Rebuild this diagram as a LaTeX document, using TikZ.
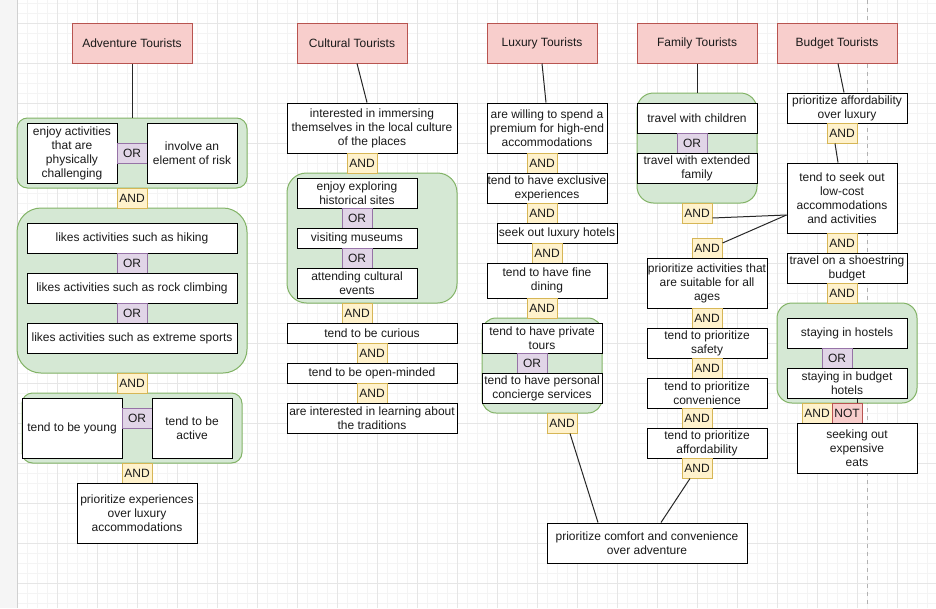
\documentclass[tikz,border=0pt]{standalone}
\usepackage{fontspec}
\setmainfont{Liberation Sans}
\begin{document}
\definecolor{headfill}{HTML}{F8CECC}
\definecolor{headline}{HTML}{B85450}
\definecolor{grpfill}{HTML}{D5E8D4}
\definecolor{grpline}{HTML}{82B366}
\definecolor{orfill}{HTML}{E1D5E7}
\definecolor{orline}{HTML}{9673A6}
\definecolor{andfill}{HTML}{FFF2CC}
\definecolor{andline}{HTML}{D6B656}
\definecolor{txt}{HTML}{1A1A1A}
\definecolor{gridmajor}{HTML}{E6E6E6}
\definecolor{gridminor}{HTML}{F4F4F4}
\begin{tikzpicture}[x=1pt,y=-1pt,
  base/.style={draw, line width=1pt, inner sep=0pt, align=center, text=txt,
    font=\fontsize{12}{14}\selectfont},
  box/.style={base, fill=white, draw=black},
  head/.style={base, fill=headfill, draw=headline, minimum height=40pt},
  orbox/.style={base, fill=orfill, draw=orline, minimum width=30pt, minimum height=20pt},
  andbox/.style={base, fill=andfill, draw=andline, minimum width=30pt, minimum height=20pt},
  notbox/.style={base, fill=headfill, draw=headline, minimum width=30pt, minimum height=20pt},
  grp/.style={draw=grpline, fill=grpfill, line width=1pt, inner sep=0pt},
  link/.style={draw=black!85, line width=1pt}]
\useasboundingbox (0,0) rectangle (936,608);

% canvas: margin strip, grid and page break
\fill[black!4] (0,0) rectangle (17,608);
\foreach \gx in {27,37,...,937} \draw[gridminor, line width=0.8pt] (\gx,0) -- (\gx,608);
\foreach \gy in {3,13,...,603} \draw[gridminor, line width=0.8pt] (17,\gy) -- (936,\gy);
\foreach \gx in {57,97,...,937} \draw[gridmajor, line width=1pt] (\gx,0) -- (\gx,608);
\foreach \gy in {23,63,...,603} \draw[gridmajor, line width=1pt] (17,\gy) -- (936,\gy);
\draw[black!18, line width=1pt] (17,0) -- (17,608);
\draw[black!30, line width=0.8pt, dash pattern=on 4pt off 4pt] (867,0) -- (867,608);

% ---------- group containers ----------
\node[grp, minimum width=230pt, minimum height=70pt, rounded corners=10.5pt] (ag1) at (132,153) {};
\node[grp, minimum width=230pt, minimum height=165pt, rounded corners=24pt] (ag2) at (132,290.5) {};
\node[grp, minimum width=220pt, minimum height=70pt, rounded corners=10.5pt] (ag3) at (132,428) {};
\node[grp, minimum width=170pt, minimum height=130pt, rounded corners=19.5pt] (cg) at (372,238) {};
\node[grp, minimum width=120pt, minimum height=95pt, rounded corners=14pt] (lg) at (542,365.5) {};
\node[grp, minimum width=120pt, minimum height=110pt, rounded corners=16.5pt] (fg) at (697,148) {};
\node[grp, minimum width=140pt, minimum height=100pt, rounded corners=15pt] (bg) at (847,353) {};

% ---------- Adventure Tourists ----------
\node[head, minimum width=120pt] (ahead) at (132,43) {Adventure Tourists};
\node[box, minimum width=90pt, minimum height=60pt] (aphys) at (72,153) {enjoy activities\\that are\\physically\\challenging};
\node[orbox] (aor1) at (132,153) {OR};
\node[box, minimum width=90pt, minimum height=60pt] (arisk) at (192,153) {involve an\\element of risk};
\node[andbox] (aand1) at (132,198) {AND};
\node[box, minimum width=210pt, minimum height=30pt] (ahike) at (132,238) {likes activities such as hiking};
\node[orbox] (aor2) at (132,263) {OR};
\node[box, minimum width=210pt, minimum height=30pt] (arock) at (132,288) {likes activities such as rock climbing};
\node[orbox] (aor3) at (132,313) {OR};
\node[box, minimum width=210pt, minimum height=30pt] (asport) at (132,338) {likes activities such as extreme sports};
\node[andbox] (aand2) at (132,383) {AND};
\node[box, minimum width=100pt, minimum height=60pt] (ayoung) at (72,428) {tend to be young};
\node[orbox] (aor4) at (137,418) {OR};
\node[box, minimum width=80pt, minimum height=60pt] (aactive) at (192,428) {tend to be\\active};
\node[andbox] (aand3) at (137,473) {AND};
\node[box, minimum width=120pt, minimum height=60pt] (aexp) at (137,513) {prioritize experiences\\over luxury\\accommodations};

% ---------- Cultural Tourists ----------
\node[head, minimum width=110pt] (chead) at (352,43) {Cultural Tourists};
\node[box, minimum width=170pt, minimum height=50pt] (cimm) at (372,128) {interested in immersing\\themselves in the local culture\\of the places};
\node[andbox] (cand1) at (362,163) {AND};
\node[box, minimum width=120pt, minimum height=30pt] (chist) at (357,193) {enjoy exploring\\historical sites};
\node[orbox] (cor1) at (357,218) {OR};
\node[box, minimum width=120pt, minimum height=20pt] (cmus) at (357,238) {visiting museums};
\node[orbox] (cor2) at (357,258) {OR};
\node[box, minimum width=120pt, minimum height=30pt] (cevent) at (357,283) {attending cultural\\events};
\node[andbox] (cand2) at (357,313) {AND};
\node[box, minimum width=170pt, minimum height=20pt] (ccur) at (372,333) {tend to be curious};
\node[andbox] (cand3) at (372,353) {AND};
\node[box, minimum width=170pt, minimum height=20pt] (copen) at (372,373) {tend to be open-minded};
\node[andbox] (cand4) at (372,393) {AND};
\node[box, minimum width=170pt, minimum height=30pt] (ctrad) at (372,418) {are interested in learning about\\the traditions};

% ---------- Luxury Tourists ----------
\node[head, minimum width=110pt] (lhead) at (542,43) {Luxury Tourists};
\node[box, minimum width=120pt, minimum height=50pt] (lwill) at (547,128) {are willing to spend a\\premium for high-end\\accommodations};
\node[andbox] (land1) at (542,163) {AND};
\node[box, minimum width=120pt, minimum height=30pt] (lexcl) at (547,188) {tend to have exclusive\\experiences};
\node[andbox] (land2) at (542,213) {AND};
\node[box, minimum width=120pt, minimum height=20pt] (lhotel) at (557,233) {seek out luxury hotels};
\node[andbox] (land3) at (547,253) {AND};
\node[box, minimum width=120pt, minimum height=35pt] (ldine) at (547,280.5) {tend to have fine\\dining};
\node[andbox] (land4) at (542,308) {AND};
\node[box, minimum width=120pt, minimum height=30pt] (ltour) at (542,338) {tend to have private\\tours};
\node[orbox] (lor) at (532,363) {OR};
\node[box, minimum width=120pt, minimum height=30pt] (lconc) at (542,388) {tend to have personal\\concierge services};
\node[andbox] (land5) at (562,423) {AND};

% ---------- Family Tourists ----------
\node[head, minimum width=120pt] (fhead) at (697,43) {Family Tourists};
\node[box, minimum width=120pt, minimum height=30pt] (fchild) at (697,118) {travel with children};
\node[orbox] (for) at (692,143) {OR};
\node[box, minimum width=120pt, minimum height=30pt] (fext) at (697,168) {travel with extended\\family};
\node[andbox] (fand1) at (697,213) {AND};
\node[andbox] (fand2) at (707,248) {AND};
\node[box, minimum width=120pt, minimum height=50pt] (fages) at (707,283) {prioritize activities that\\are suitable for all\\ages};
\node[andbox] (fand3) at (707,318) {AND};
\node[box, minimum width=120pt, minimum height=30pt] (fsafe) at (707,343) {tend to prioritize\\safety};
\node[andbox] (fand4) at (707,368) {AND};
\node[box, minimum width=120pt, minimum height=30pt] (fconv) at (707,393) {tend to prioritize\\convenience};
\node[andbox] (fand5) at (697,418) {AND};
\node[box, minimum width=120pt, minimum height=30pt] (faff) at (707,443) {tend to prioritize\\affordability};
\node[andbox] (fand6) at (697,468) {AND};

% ---------- shared conclusion ----------
\node[box, minimum width=200pt, minimum height=40pt] (fin) at (647,543) {prioritize comfort and convenience\\over adventure};

% ---------- Budget Tourists ----------
\node[head, minimum width=120pt] (bhead) at (837,43) {Budget Tourists};
\node[box, minimum width=120pt, minimum height=30pt] (bpri) at (847,108) {prioritize affordability\\over luxury};
\node[andbox] (band1) at (842,133) {AND};
\node[box, minimum width=110pt, minimum height=70pt] (bseek) at (842,198) {tend to seek out\\low-cost\\accommodations\\and activities};
\node[andbox] (band2) at (842,243) {AND};
\node[box, minimum width=120pt, minimum height=30pt] (bshoe) at (847,268) {travel on a shoestring\\budget};
\node[andbox] (band3) at (842,293) {AND};
\node[box, minimum width=120pt, minimum height=30pt] (bhost) at (847,333) {staying in hostels};
\node[orbox] (bor) at (837,358) {OR};
\node[box, minimum width=120pt, minimum height=30pt] (bhot) at (847,383) {staying in budget\\hotels};
\node[andbox] (band4) at (817,413) {AND};
\node[notbox] (bnot) at (847,413) {NOT};
\node[box, minimum width=120pt, minimum height=50pt] (beats) at (857,448) {seeking out\\expensive\\eats};

% ---------- connectors ----------
\draw[link] (ahead.south) -- (ag1.north);
\draw[link] ([xshift=5pt]chead.south) -- ([xshift=-5pt]cimm.north);
\draw[link] (lhead.south) -- ([xshift=-1pt]lwill.north);
\draw[link] (fhead.south) -- (fg.north);
\draw[link] ([xshift=1pt]bhead.south) -- ([xshift=-3pt]bpri.north);
\draw[link] ([xshift=-7pt]band1.south) -- ([xshift=-4pt]bseek.north);
\draw[link] ([yshift=-5pt]fand1.east) -- ([yshift=-17pt]bseek.west);
\draw[link] ([yshift=5pt]fand2.east) -- ([yshift=-17pt]bseek.west);
\draw[link] ([xshift=8pt]land5.south) -- ([xshift=-49pt]fin.north);
\draw[link] ([xshift=-7pt]fand6.south) -- ([xshift=14pt]fin.north);
\draw[link] ([xshift=10pt]bhot.south) -- ([xshift=10pt]bnot.north);
\end{tikzpicture}
\end{document}
